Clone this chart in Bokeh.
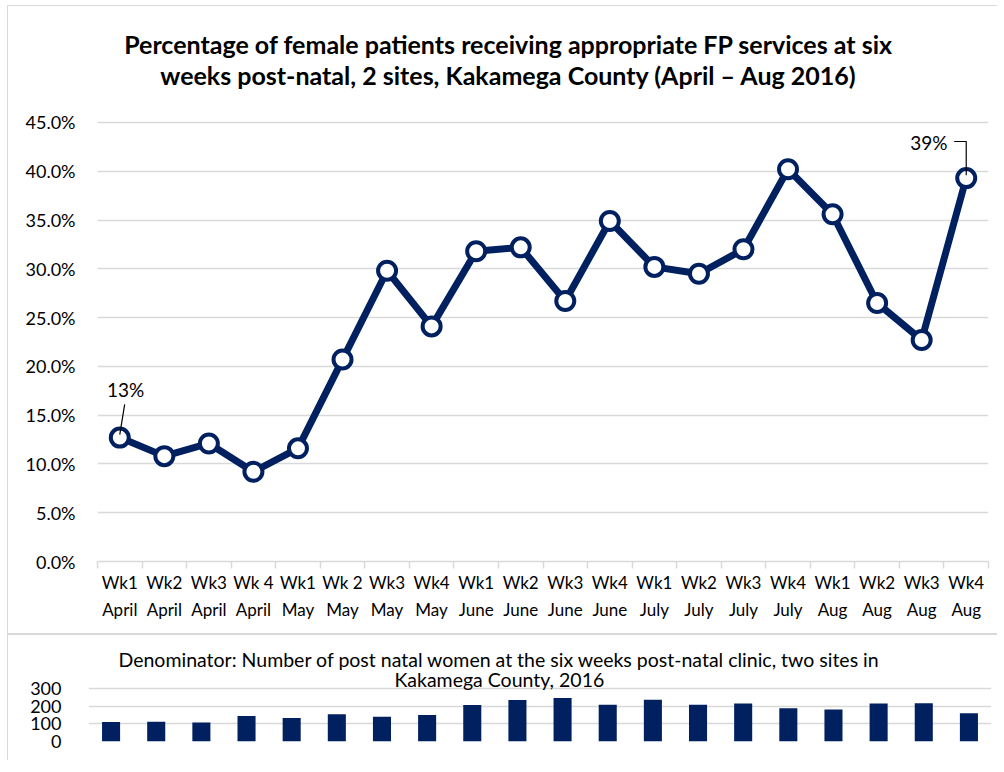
from bokeh.plotting import figure
from bokeh.models import FixedTicker, Label, Range1d
from bokeh.embed import file_html
from bokeh.resources import INLINE

weeks = ["Wk1\nApril", "Wk2\nApril", "Wk3\nApril", "Wk 4\nApril", "Wk1\nMay",
         "Wk 2\nMay", "Wk3\nMay", "Wk4\nMay", "Wk1\nJune", "Wk2\nJune",
         "Wk3\nJune", "Wk4\nJune", "Wk1\nJuly", "Wk2\nJuly", "Wk3\nJuly",
         "Wk4\nJuly", "Wk1\nAug", "Wk2\nAug", "Wk3\nAug", "Wk4\nAug"]
pct_values = [12.7, 10.8, 12.1, 9.2, 11.6, 20.7, 29.8, 24.1, 31.8, 32.2,
              26.7, 34.9, 30.2, 29.5, 32.0, 40.2, 35.6, 26.5, 22.7, 39.3]
denominator = [110, 112, 108, 144, 133, 154, 140, 150, 206, 235,
               246, 208, 237, 208, 215, 188, 181, 215, 217, 160]
pct_ticks = [0, 5, 10, 15, 20, 25, 30, 35, 40, 45]
pct_tick_labels = ["0.0%", "5.0%", "10.0%", "15.0%", "20.0%", "25.0%",
                   "30.0%", "35.0%", "40.0%", "45.0%"]
den_ticks = [0, 100, 200, 300]
den_tick_labels = ["0", "100", "200", "300"]
title_lines = ["Percentage of female patients receiving appropriate FP services at six",
               "weeks post-natal, 2 sites, Kakamega County (April \u2013 Aug 2016)"]
den_title_lines = ["Denominator: Number of post natal women at the six weeks post-natal clinic, two sites in",
                   "Kakamega County, 2016"]

NAVY = "#002060"
GRID = "#D9D9D9"
FONT = "Lato"
n = len(weeks)
xs = list(range(n))

# ---------------- top chart ----------------
# frame spans the full height above the x axis so that in-frame labels can hold the title
p1 = figure(width=990, height=629, output_backend="svg", toolbar_location=None,
            x_range=Range1d(-0.5, n - 0.5), y_range=Range1d(0, 56.89),
            min_border_left=89, min_border_right=10, min_border_top=0,
            min_border_bottom=74)
p1.outline_line_color = None
p1.styles = {"border-left": "1px solid #D9D9D9", "border-top": "1px solid #D9D9D9",
             "border-bottom": "1px solid #D9D9D9", "margin-left": "7px", "margin-top": "5px"}

p1.xgrid.visible = False
p1.ygrid.grid_line_color = GRID
p1.ygrid.grid_line_width = 1.5
p1.yaxis.ticker = FixedTicker(ticks=pct_ticks)
p1.yaxis.major_label_overrides = dict(zip(pct_ticks, pct_tick_labels))
p1.yaxis.axis_line_color = None
p1.yaxis.major_tick_line_color = None
p1.yaxis.minor_tick_line_color = None
p1.yaxis.major_label_standoff = 16
p1.yaxis.major_label_text_font = FONT
p1.yaxis.major_label_text_font_size = "18px"
p1.yaxis.major_label_text_color = "#000000"

bounds = [i - 0.5 for i in range(n + 1)]
p1.xaxis.ticker = FixedTicker(ticks=xs, minor_ticks=bounds)
p1.xaxis.major_label_overrides = dict(zip(xs, weeks))
p1.xaxis.axis_line_color = GRID
p1.xaxis.axis_line_width = 1.5
p1.xaxis.major_tick_line_color = None
p1.xaxis.minor_tick_line_color = GRID
p1.xaxis.minor_tick_line_width = 1.5
p1.xaxis.minor_tick_out = 7
p1.xaxis.minor_tick_in = 0
p1.xaxis.major_label_standoff = 3
p1.xaxis.major_label_text_font = FONT
p1.xaxis.major_label_text_font_size = "17px"
p1.xaxis.major_label_text_line_height = 1.3
p1.xaxis.major_label_text_color = "#000000"

p1.line(xs, pct_values, line_color=NAVY, line_width=7, line_join="round")
p1.scatter(xs, pct_values, size=18, fill_color="white", line_color=NAVY, line_width=4)

# title
for i, t in enumerate(title_lines):
    p1.add_layout(Label(x=8.73, y=53.0 - i * 3.1, text=t, text_align="center",
                        text_baseline="middle", text_font=FONT,
                        text_font_style="bold", text_font_size="25px",
                        text_color="#000000"))

# data labels with leader lines
v0 = pct_values[0]
p1.line([xs[0] + 0.11, xs[0]], [v0 + 3.4, v0 + 0.3], line_color="#000000", line_width=1.2)
p1.add_layout(Label(x=xs[0] + 0.13, y=v0 + 4.9, text=f"{round(v0)}%", text_align="center",
                    text_baseline="middle", text_font=FONT, text_font_size="19px",
                    text_color="#000000"))
vl = pct_values[-1]
p1.line([xs[-1] - 0.27, xs[-1], xs[-1]], [vl + 3.75, vl + 3.75, vl + 0.3],
        line_color="#000000", line_width=1.2)
p1.add_layout(Label(x=xs[-1] - 0.42, y=vl + 3.6, text=f"{round(vl)}%", text_align="right",
                    text_baseline="middle", text_font=FONT, text_font_size="19px",
                    text_color="#000000"))

# ---------------- bottom chart ----------------
p2 = figure(width=990, height=126, output_backend="svg", toolbar_location=None,
            x_range=Range1d(-0.5, n - 0.5), y_range=Range1d(0, 600),
            min_border_left=80, min_border_right=7, min_border_top=0,
            min_border_bottom=20)
p2.outline_line_color = None
p2.styles = {"border-left": "1px solid #D9D9D9", "border-top": "1px solid #D9D9D9",
             "margin-left": "7px"}
p2.xaxis.visible = False
p2.xgrid.visible = False
p2.ygrid.grid_line_color = GRID
p2.ygrid.grid_line_width = 1.5
p2.yaxis.ticker = FixedTicker(ticks=den_ticks)
p2.yaxis.major_label_overrides = dict(zip(den_ticks, den_tick_labels))
p2.yaxis.axis_line_color = None
p2.yaxis.major_tick_line_color = None
p2.yaxis.minor_tick_line_color = None
p2.yaxis.major_label_standoff = 21
p2.yaxis.major_label_text_font = FONT
p2.yaxis.major_label_text_font_size = "18px"
p2.yaxis.major_label_text_color = "#000000"

p2.vbar(x=xs, top=denominator, width=0.4, fill_color=NAVY, line_color=None)

for i, t in enumerate(den_title_lines):
    p2.add_layout(Label(x=8.6, y=462 - i * 112, text=t, text_align="center",
                        text_baseline="middle", text_font=FONT,
                        text_font_size="19.5px", text_color="#000000"))

open("out.html", "w").write(file_html([p1, p2], INLINE))
